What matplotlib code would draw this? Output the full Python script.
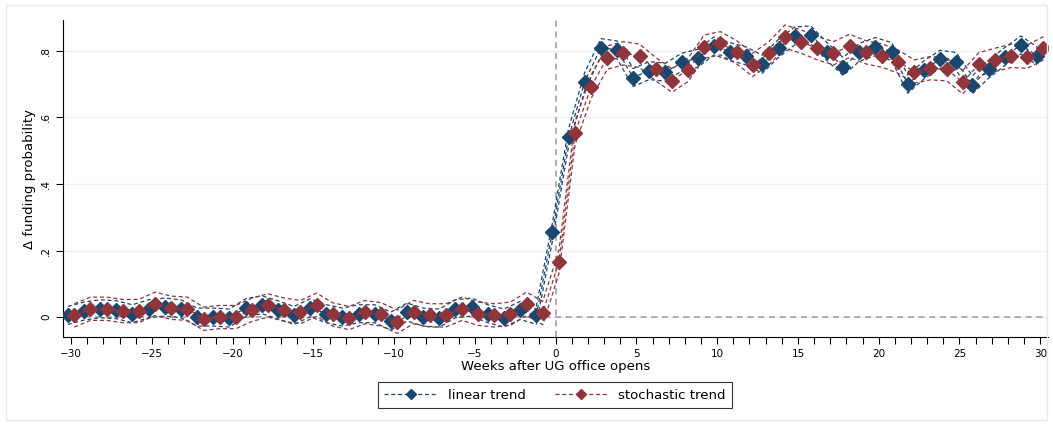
import numpy as np
import matplotlib
matplotlib.use("Agg")
import matplotlib.pyplot as plt
from matplotlib.patches import Rectangle

# event time in weeks
weeks = np.arange(-30, 31)

# point estimates, linear trend
lin = [0.005, 0.018, 0.025, 0.022, 0.010, 0.025, 0.030, 0.025, 0.000, 0.000,
       -0.003, 0.028, 0.037, 0.022, 0.005, 0.028, 0.010, 0.000, 0.010, 0.010,
       -0.012, 0.015, 0.000, -0.003, 0.025, 0.030, 0.010, -0.003, 0.020, 0.005,
       0.256,
       0.540, 0.708, 0.810, 0.803, 0.720, 0.741, 0.736, 0.766, 0.778, 0.815,
       0.798, 0.785, 0.760, 0.808, 0.845, 0.848, 0.798, 0.753, 0.796, 0.813,
       0.798, 0.700, 0.743, 0.775, 0.768, 0.698, 0.745, 0.783, 0.818, 0.785]

# point estimates, stochastic trend
sto = [0.005, 0.025, 0.025, 0.018, 0.018, 0.040, 0.028, 0.025, -0.005, 0.000,
       0.000, 0.022, 0.035, 0.022, 0.015, 0.037, 0.008, -0.003, 0.015, 0.008,
       -0.014, 0.015, 0.005, 0.005, 0.025, 0.010, 0.005, 0.010, 0.040, 0.012,
       0.165,
       0.553, 0.693, 0.780, 0.793, 0.785, 0.745, 0.711, 0.743, 0.813, 0.823,
       0.796, 0.758, 0.793, 0.843, 0.828, 0.808, 0.793, 0.815, 0.796, 0.786,
       0.768, 0.738, 0.748, 0.745, 0.706, 0.760, 0.773, 0.785, 0.783, 0.808]

# half width of the 95% bands
lin_ci = 0.027
sto_ci = 0.035

navy = "#1a476f"
maroon = "#90353b"
ref_gray = "#9a9a9a"

fig = plt.figure(figsize=(10.53, 4.25), dpi=100)
fig.patch.set_facecolor("white")
fig.patches.append(Rectangle((0.006, 0.012), 0.988, 0.976, transform=fig.transFigure,
                             fill=False, edgecolor="#e3eaee", linewidth=1))
ax = fig.add_axes([0.0598, 0.207, 0.935, 0.746])

ax.axvline(0, color=ref_gray, lw=1.1, ls=(0, (4, 3)), zorder=1)
ax.axhline(0, color=ref_gray, lw=1.1, ls=(0, (4, 3)), zorder=1)

dash = (0, (3.2, 2.2))
for vals, ci, col, off, lab in [(lin, lin_ci, navy, -0.2, "linear trend"),
                                (sto, sto_ci, maroon, 0.2, "stochastic trend")]:
    x = weeks + off
    y = np.array(vals)
    ax.plot(x, y + ci, color=col, lw=0.9, ls=dash, zorder=2)
    ax.plot(x, y - ci, color=col, lw=0.9, ls=dash, zorder=2)
    ax.plot(x, y, color=col, lw=0.9, ls=dash, marker="D", ms=7,
            mec=col, mfc=col, label=lab, zorder=3)

ax.set_xlim(-30.5, 30.45)
ax.set_ylim(-0.06, 0.893)
ax.set_xticks(np.arange(-30, 31, 5))
ax.set_xticks(np.arange(-30, 31, 1), minor=True)
ax.set_yticks([0, 0.2, 0.4, 0.6, 0.8])
ax.set_yticklabels(["0", ".2", ".4", ".6", ".8"], rotation=90, va="center")
ax.tick_params(axis="both", which="both", direction="out", length=5, width=0.8,
               labelsize=7.5, colors="#000000")
ax.tick_params(axis="x", which="minor", length=5)
ax.grid(axis="y", color="#eaf2f3", lw=1)
ax.set_axisbelow(True)

for s in ["top", "right"]:
    ax.spines[s].set_visible(False)
for s in ["left", "bottom"]:
    ax.spines[s].set_linewidth(0.8)

ax.set_xlabel("Weeks after UG office opens", fontsize=9.5, labelpad=1)
ax.set_ylabel("Δ funding probability", fontsize=9.5, labelpad=4)

fig.legend(loc="center", bbox_to_anchor=(0.527, 0.07), ncol=2, fontsize=9.5,
           frameon=True, fancybox=False, edgecolor="black", handlelength=4,
           columnspacing=2.2, borderpad=0.5, markerscale=0.75)
leg = fig.legends[0]
leg.get_frame().set_linewidth(0.8)

fig.savefig("out.png", dpi=100)
